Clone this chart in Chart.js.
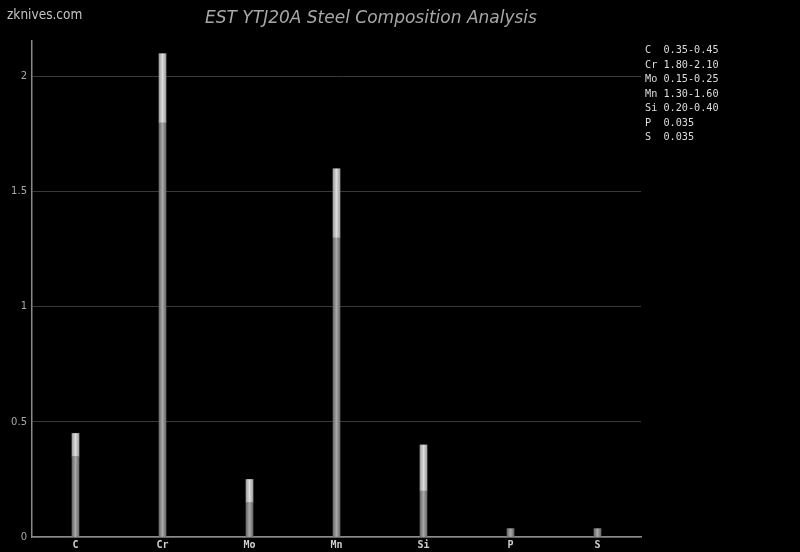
<!DOCTYPE html>
<html>
<head>
<meta charset="utf-8">
<script src="https://cdn.jsdelivr.net/npm/chart.js@4/dist/chart.umd.min.js"></script>
<style>
    body { margin: 0; background: #000; }
    #wrap { position: relative; width: 800px; height: 552px; background: #000; }
    #grafico { position: absolute; left: 0; top: 0; }
    #marca { position: absolute; left: 7px; top: 6px; font: 13.5px "DejaVu Sans Condensed", "DejaVu Sans", sans-serif; color: #c4c4c4; }
    #titulo { position: absolute; left: 200px; top: 7px; width: 342px; text-align: center; font: italic 17px "DejaVu Sans", sans-serif; color: #a8a8a8; white-space: nowrap; }
    #legenda { position: absolute; left: 645px; top: 43px; font: 10.2px "DejaVu Sans Mono", monospace; line-height: 14.5px; color: #ddd; white-space: pre; }
</style>
</head>
<body>
<div id="wrap">
    <canvas id="grafico" width="800" height="552"></canvas>
    <div id="marca">zknives.com</div>
    <div id="titulo">EST YTJ20A Steel Composition Analysis</div>
    <div id="legenda"></div>
</div>
<script>
const elementos = ["C", "Cr", "Mo", "Mn", "Si", "P", "S"];
const minimos = [0.35, 1.80, 0.15, 1.30, 0.20, 0.035, 0.035];
const maximos = [0.45, 2.10, 0.25, 1.60, 0.40, 0.035, 0.035];
const ticksY = [0, 0.5, 1, 1.5, 2];

const faixa = maximos.map((max, i) => +(max - minimos[i]).toFixed(3));

// legenda de texto à direita
const linhas = elementos.map((el, i) => {
    const nome = (el + "  ").slice(0, 2);
    if (minimos[i] === maximos[i]) {
        return nome + " " + minimos[i].toFixed(3);
    }
    return nome + " " + minimos[i].toFixed(2) + "-" + maximos[i].toFixed(2);
});
document.getElementById("legenda").textContent = linhas.join("\n");

function gradiente(cores) {
    return (ctx) => {
        const chart = ctx.chart;
        const escala = chart.scales && chart.scales.x;
        if (!escala || ctx.dataIndex === undefined) return cores[1];
        const x = escala.getPixelForValue(ctx.dataIndex);
        if (!isFinite(x)) return cores[1];
        const g = chart.ctx.createLinearGradient(x - 3.5, 0, x + 3.5, 0);
        g.addColorStop(0, cores[0]);
        g.addColorStop(0.5, cores[1]);
        g.addColorStop(1, cores[0]);
        return g;
    };
}

const ctx = document.getElementById("grafico").getContext("2d");

new Chart(ctx, {
    type: "bar",
    data: {
        labels: elementos,
        datasets: [
            {
                label: "Mínimo",
                data: minimos,
                backgroundColor: gradiente(["#6a6a6a", "#a8a8a8"]),
                borderWidth: 0,
                barThickness: 7,
            },
            {
                label: "Faixa",
                data: faixa,
                backgroundColor: gradiente(["#a0a0a0", "#dcdcdc"]),
                borderWidth: 0,
                barThickness: 7,
            },
        ],
    },
    options: {
        responsive: false,
        animation: false,
        layout: { padding: { left: 0, top: 41, right: 159, bottom: 0 } },
        plugins: {
            legend: { display: false },
            title: { display: false },
            tooltip: { enabled: false },
        },
        scales: {
            x: {
                stacked: true,
                grid: { display: false, drawTicks: false, tickLength: 0 },
                border: { color: "#8a8a8a", width: 1.5 },
                ticks: {
                    color: "#cfcfcf",
                    font: { family: "DejaVu Sans Mono", size: 10, weight: "bold" },
                    padding: 2,
                    maxRotation: 0,
                },
                afterFit: (escala) => { escala.height = 15; },
            },
            y: {
                stacked: true,
                min: 0,
                max: 2.155,
                afterBuildTicks: (escala) => {
                    escala.ticks = ticksY.map((v) => ({ value: v }));
                },
                grid: { color: "#3a3a3a", drawTicks: false, lineWidth: 1 },
                border: { color: "#8a8a8a", width: 1.5 },
                ticks: {
                    color: "#a8a8a8",
                    font: { family: "DejaVu Sans", size: 10 },
                    padding: 5,
                    callback: (v) => String(v),
                },
                afterFit: (escala) => { escala.width = 32; },
            },
        },
    },
});
</script>
</body>
</html>
